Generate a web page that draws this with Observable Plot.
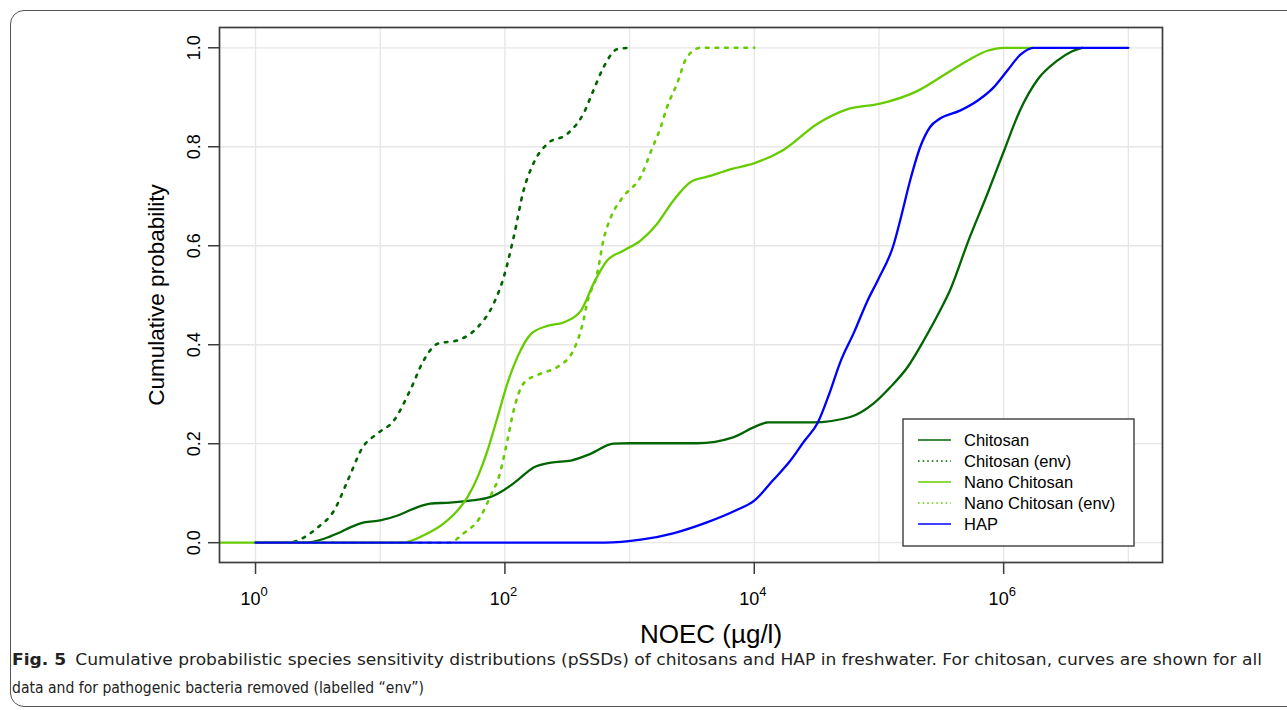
<!DOCTYPE html>
<html><head><meta charset="utf-8">
<script src="https://cdn.jsdelivr.net/npm/d3@7"></script>
<script src="https://cdn.jsdelivr.net/npm/@observablehq/plot@0.6"></script>
<style>
body{margin:0;background:#fff;}
#wrap{position:relative;width:1287px;height:710px;overflow:hidden;background:#fff;}
#border{position:absolute;left:10px;top:10px;width:1330px;height:697px;border:1.3px solid #555;border-radius:14px;box-sizing:border-box;}
#plot{position:absolute;left:0;top:0;}
#legend{position:absolute;left:902px;top:418px;}
#caption{position:absolute;left:0;top:645px;}
</style></head>
<body><div id="wrap"><div id="border"></div><div id="plot"></div><svg id="legend" width="234" height="130"></svg><svg id="caption" width="1287" height="65"></svg></div>
<script>
// ---- data (log10 NOEC in µg/l, cumulative probability) ----
const chitosanLogX = [0,0.38,0.55,0.66,0.76,0.87,1.0,1.14,1.27,1.40,1.56,1.72,1.88,1.99,2.10,2.23,2.37,2.53,2.69,2.87,3.0,3.54,3.83,4.03,4.11,4.47,4.77,4.96,5.09,5.23,5.36,5.49,5.57,5.72,5.87,6.0,6.13,6.27,6.43,6.55,6.63];
const chitosanP    = [0,0,0.008,0.019,0.031,0.041,0.045,0.055,0.069,0.079,0.081,0.085,0.092,0.106,0.126,0.152,0.162,0.166,0.180,0.200,0.201,0.201,0.213,0.237,0.243,0.243,0.254,0.282,0.314,0.355,0.409,0.469,0.51,0.612,0.705,0.790,0.873,0.935,0.974,0.993,1.0];

const chitosanEnvLogX = [0,0.25,0.50,0.63,0.74,0.86,0.98,1.11,1.24,1.35,1.46,1.62,1.78,1.91,1.99,2.07,2.15,2.23,2.34,2.50,2.63,2.71,2.79,2.90,3.0];
const chitosanEnvP    = [0,0,0.031,0.065,0.126,0.193,0.221,0.247,0.308,0.369,0.402,0.409,0.435,0.483,0.536,0.617,0.712,0.767,0.806,0.826,0.867,0.914,0.960,0.997,1.0];

const nanoLogX = [-0.28,1.18,1.35,1.51,1.62,1.70,1.78,1.86,1.94,2.02,2.10,2.21,2.34,2.47,2.61,2.71,2.82,2.95,3.09,3.22,3.35,3.49,3.63,3.83,3.99,4.23,4.51,4.75,5.01,5.31,5.49,5.71,5.87,6.0,6.24];
const nanoP    = [0,0,0.015,0.039,0.065,0.092,0.132,0.186,0.253,0.322,0.375,0.422,0.438,0.445,0.469,0.523,0.570,0.590,0.611,0.644,0.691,0.729,0.740,0.756,0.766,0.793,0.847,0.876,0.887,0.913,0.940,0.974,0.994,1.0,1.0];

const nanoEnvLogX = [0,1.55,1.67,1.80,1.88,1.96,2.02,2.07,2.15,2.29,2.42,2.55,2.63,2.66,2.74,2.79,2.85,2.94,3.10,3.17,3.25,3.30,3.38,3.46,3.57,4.0];
const nanoEnvP    = [0,0,0.019,0.051,0.092,0.140,0.207,0.267,0.322,0.342,0.355,0.389,0.449,0.485,0.544,0.611,0.658,0.696,0.745,0.790,0.840,0.880,0.927,0.981,1.0,1.0];

const hapLogX = [0,2.8,3.09,3.35,3.62,3.85,4.0,4.15,4.29,4.40,4.51,4.60,4.69,4.80,4.91,4.99,5.12,5.17,5.25,5.33,5.41,5.49,5.65,5.79,5.92,6.03,6.13,6.24,7.0];
const hapP    = [0,0,0.006,0.019,0.041,0.065,0.085,0.126,0.166,0.205,0.243,0.300,0.365,0.425,0.49,0.530,0.604,0.651,0.732,0.799,0.840,0.857,0.873,0.893,0.920,0.954,0.985,1.0,1.0];

const seriesNames  = ["Chitosan","Chitosan (env)","Nano Chitosan","Nano Chitosan (env)","HAP"];
const seriesColors = ["#006400","#006400","#66cc00","#66cc00","#0000ff"];
const seriesDotted = [false,true,false,true,false];

const xGridTicks  = [1,10,100,1e3,1e4,1e5,1e6,1e7];
const xLabelTicks = [1,100,1e4,1e6];
const yTicks      = [0,0.2,0.4,0.6,0.8,1.0];
const xTitle = "NOEC (µg/l)";
const yTitle = "Cumulative probability";
const captionBold = "Fig. 5";
const captionLine1 = "Cumulative probabilistic species sensitivity distributions (pSSDs) of chitosans and HAP in freshwater. For chitosan, curves are shown for all";
const captionLine2 = "data and for pathogenic bacteria removed (labelled \u201cenv\u201d)";

const toRows = (lx, p) => lx.map((v, i) => ({x: Math.pow(10, v), y: p[i]}));
const seriesData = [
  toRows(chitosanLogX, chitosanP),
  toRows(chitosanEnvLogX, chitosanEnvP),
  toRows(nanoLogX, nanoP),
  toRows(nanoEnvLogX, nanoEnvP),
  toRows(hapLogX, hapP)
];

const font = "'Liberation Sans', Arial, Helvetica, sans-serif";
const lineMarks = seriesData.map((d, i) => Plot.line(d, {
  x: "x", y: "y", stroke: seriesColors[i], strokeWidth: seriesDotted[i] ? 2.6 : 2.3,
  strokeDasharray: seriesDotted[i] ? "2.6,7" : null, curve: "monotone-x"
}));

const plot = Plot.plot({
  width: 1287, height: 655,
  marginLeft: 219, marginRight: 125, marginTop: 27, marginBottom: 93,
  x: {type: "log", domain: [Math.pow(10, -0.289), Math.pow(10, 7.274)], axis: null},
  y: {domain: [-0.040, 1.041], axis: null},
  style: {fontFamily: font, background: "transparent", color: "#000"},
  marks: [
    Plot.gridX(xGridTicks, {stroke: "#e6e6e6", strokeOpacity: 1, strokeWidth: 1.3}),
    Plot.gridY(yTicks, {stroke: "#e6e6e6", strokeOpacity: 1, strokeWidth: 1.3}),
    ...lineMarks,
    Plot.frame({stroke: "#3c3c3c", strokeWidth: 1.7}),
    Plot.axisX({ticks: xLabelTicks, tickSize: 12, tickFormat: () => "", label: null, stroke: "#3c3c3c", strokeWidth: 1.5}),
    Plot.axisY({ticks: yTicks, tickSize: 11, tickFormat: () => "", label: null, stroke: "#3c3c3c", strokeWidth: 1.5}),
    Plot.text(xLabelTicks, {x: d => d, text: () => "10", frameAnchor: "bottom", dy: 42, dx: 5, textAnchor: "end", lineAnchor: "bottom", fontSize: 18}),
    Plot.text(xLabelTicks, {x: d => d, text: d => String(Math.round(Math.log10(d))), frameAnchor: "bottom", dy: 33, dx: 5, textAnchor: "start", lineAnchor: "bottom", fontSize: 13}),
    Plot.text(yTicks, {y: d => d, text: d => d3.format(".1f")(d), frameAnchor: "left", rotate: -90, dx: -20, textAnchor: "middle", lineAnchor: "bottom", fontSize: 18}),
    Plot.text([xTitle], {text: d => d, frameAnchor: "bottom", dx: 20, dy: 80, textAnchor: "middle", lineAnchor: "bottom", fontSize: 26}),
    Plot.text([yTitle], {text: d => d, frameAnchor: "left", rotate: -90, dx: -56, textAnchor: "middle", lineAnchor: "bottom", fontSize: 22.5})
  ]
});
document.getElementById("plot").appendChild(plot);

// ---- legend ----
const lg = d3.select("#legend");
lg.append("rect").attr("x", 1).attr("y", 1).attr("width", 231).attr("height", 127)
  .attr("fill", "#fff").attr("stroke", "#3c3c3c").attr("stroke-width", 1.4);
seriesNames.forEach((name, i) => {
  const cy = 22 + i * 21;
  lg.append("line").attr("x1", 16).attr("x2", 49).attr("y1", cy).attr("y2", cy)
    .attr("stroke", seriesColors[i]).attr("stroke-width", 1.6)
    .attr("stroke-dasharray", seriesDotted[i] ? "1.6,3" : null);
  lg.append("text").attr("x", 62).attr("y", cy).attr("dy", "0.36em")
    .attr("font-family", font).attr("font-size", 16.5).text(name);
});

// ---- caption ----
const cap = d3.select("#caption");
const capFont = "'Liberation Sans Narrow', 'DejaVu Sans Condensed', 'Open Sans', sans-serif";
const t1 = cap.append("text").attr("x", 12).attr("y", 20).attr("font-family", capFont)
  .attr("font-size", 16.5).attr("fill", "#222").attr("textLength", 1250).attr("lengthAdjust", "spacingAndGlyphs");
t1.append("tspan").attr("font-weight", "bold").text(captionBold);
t1.append("tspan").attr("dx", 8).text(captionLine1);
cap.append("text").attr("x", 12).attr("y", 48).attr("font-family", capFont)
  .attr("font-size", 16.5).attr("fill", "#222").attr("textLength", 412).attr("lengthAdjust", "spacingAndGlyphs")
  .text(captionLine2);
</script></body></html>
